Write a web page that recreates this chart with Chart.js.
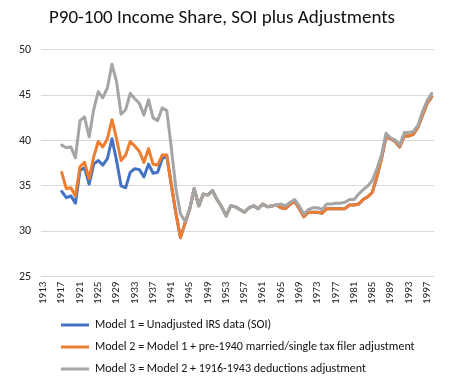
<!DOCTYPE html>
<html>
<head>
<meta charset="utf-8">
<script src="https://cdn.jsdelivr.net/npm/chart.js@4.4.1/dist/chart.umd.min.js"></script>
<style>
html,body{margin:0;padding:0;background:#fff;}
#wrap{width:450px;height:388px;position:relative;}
</style>
</head>
<body>
<div id="wrap"><canvas id="c" width="450" height="388"></canvas></div>
<script>
const years = [];
for (let y = 1913; y <= 1998; y++) years.push(String(y));

const tickYears = ['1913','1917','1921','1925','1929','1933','1937','1941','1945','1949','1953','1957','1961','1965','1969','1973','1977','1981','1985','1989','1993','1997'];

const model1 = [null,null,null,null,
 34.4,33.7,33.9,33.1,36.7,37.0,35.2,37.4,37.8,37.3,38.0,40.2,37.8,35.0,34.8,36.5,36.9,36.8,36.0,37.4,36.4,36.5,38.0,38.3,
 35.1,32.0,29.3,30.9,32.4,34.7,32.8,34.1,34.0,34.5,33.5,32.7,31.7,32.8,32.7,32.4,32.1,32.6,32.8,32.5,33.0,32.7,32.8,32.9,
 32.6,32.5,33.0,33.3,32.5,31.6,32.1,32.1,32.1,32.0,32.5,32.5,32.5,32.5,32.5,32.9,32.9,33.0,33.5,33.8,34.3,36.0,38.0,40.4,
 40.2,39.9,39.3,40.5,40.5,40.7,41.5,42.8,44.1,44.8];

const model2 = [null,null,null,null,
 36.5,34.7,34.8,33.9,37.1,37.6,35.8,38.2,39.9,39.3,40.2,42.3,40.2,37.8,38.4,39.9,39.4,38.8,37.6,39.1,37.4,37.3,38.4,38.4,
 35.1,32.0,29.3,30.9,32.4,34.7,32.8,34.1,34.0,34.5,33.5,32.7,31.7,32.8,32.7,32.4,32.1,32.6,32.8,32.5,33.0,32.7,32.8,32.9,
 32.6,32.5,33.0,33.3,32.5,31.6,32.1,32.1,32.1,32.0,32.5,32.5,32.5,32.5,32.5,32.9,32.9,33.0,33.5,33.8,34.3,36.0,38.0,40.4,
 40.2,39.9,39.3,40.5,40.5,40.7,41.5,42.8,44.1,44.8];

const model3 = [null,null,null,null,
 39.5,39.2,39.3,38.1,42.2,42.6,40.4,43.4,45.4,44.7,45.8,48.4,46.5,42.9,43.4,45.2,44.6,44.1,42.8,44.5,42.5,42.2,43.6,43.3,
 39.2,34.7,31.9,31.1,32.4,34.7,32.8,34.1,34.0,34.5,33.5,32.7,31.7,32.8,32.7,32.4,32.1,32.6,32.8,32.5,33.0,32.7,32.8,32.9,
 33.0,32.8,33.2,33.5,32.8,31.9,32.4,32.6,32.6,32.4,33.0,33.0,33.1,33.1,33.2,33.5,33.5,34.1,34.6,35.0,35.6,36.9,38.4,40.8,
 40.3,40.05,39.5,40.9,40.9,41.0,41.7,43.2,44.4,45.2];

const seriesNames = [
 'Model 1 = Unadjusted IRS data (SOI)',
 'Model 2 = Model 1 + pre-1940 married/single tax filer adjustment',
 'Model 3 = Model 2 + 1916-1943 deductions adjustment'
];
const titleText = 'P90-100 Income Share, SOI plus Adjustments';

const FONT = "Carlito, Lato, 'Liberation Sans', sans-serif";
const colors = ['#4472C4', '#ED7D31', '#A5A5A5'];

const legendShift = {
  id: 'legendShift',
  afterLayout(chart) {
    if (chart.legend) { chart.legend.left += 42; }
  }
};

new Chart(document.getElementById('c'), {
  type: 'line',
  data: {
    labels: years,
    datasets: [
      { label: seriesNames[0], data: model1, borderColor: colors[0], backgroundColor: colors[0], order: 2 },
      { label: seriesNames[1], data: model2, borderColor: colors[1], backgroundColor: colors[1], order: 1 },
      { label: seriesNames[2], data: model3, borderColor: colors[2], backgroundColor: colors[2], order: 0 }
    ]
  },
  options: {
    responsive: false,
    animation: false,
    devicePixelRatio: 1,
    layout: { padding: { left: 9, right: 15, top: 0, bottom: 3 } },
    elements: {
      line: { borderWidth: 3, tension: 0, borderCapStyle: 'round', borderJoinStyle: 'round' },
      point: { radius: 0, hoverRadius: 0 }
    },
    scales: {
      x: {
        type: 'category',
        offset: true,
        grid: { display: false, drawTicks: false },
        border: { display: false },
        ticks: {
          autoSkip: false,
          minRotation: 90,
          maxRotation: 90,
          padding: 5,
          color: '#222',
          font: { family: FONT, size: 11 },
          callback: function(v, i) { const l = this.getLabelForValue(v); return tickYears.includes(l) ? l : ''; }
        }
      },
      y: {
        min: 25, max: 50,
        grid: { color: '#d9d9d9', drawTicks: false, lineWidth: 1 },
        border: { display: false },
        ticks: { stepSize: 5, padding: 10, color: '#222', font: { family: FONT, size: 12 } }
      }
    },
    plugins: {
      title: {
        display: true, text: titleText, color: '#111',
        font: { family: FONT, size: 19, weight: 'normal' },
        padding: { top: 7, bottom: 20 }
      },
      legend: {
        position: 'bottom',
        align: 'start',
        labels: {
          boxWidth: 28, boxHeight: 3, padding: 10,
          color: '#111',
          font: { family: FONT, size: 12 },
          sort: (a, b) => a.datasetIndex - b.datasetIndex,
          generateLabels(chart) {
            const items = Chart.defaults.plugins.legend.labels.generateLabels(chart);
            items.forEach(it => { it.lineWidth = 0; });
            return items;
          }
        }
      },
      tooltip: { enabled: false }
    }
  },
  plugins: [legendShift]
});
</script>
</body>
</html>
